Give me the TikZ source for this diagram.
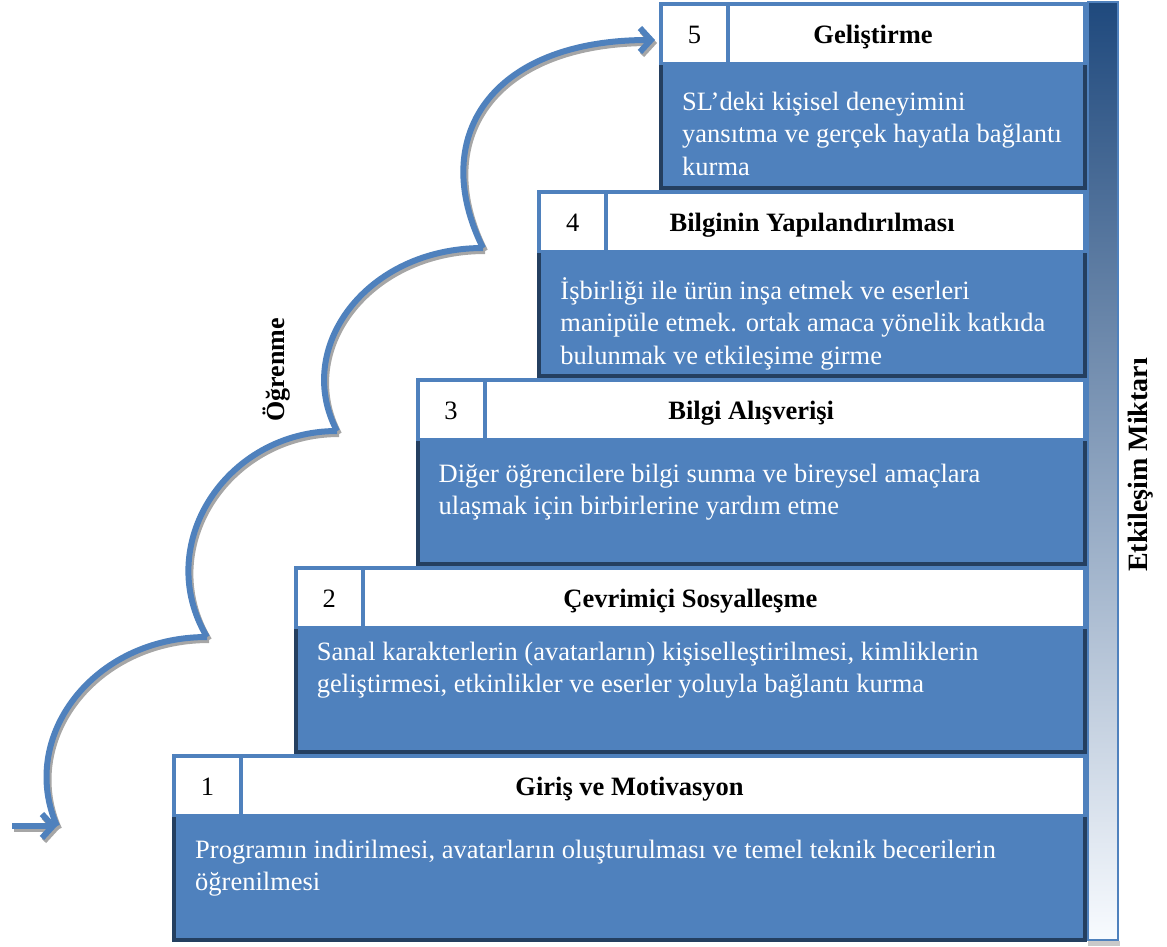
\documentclass[tikz,border=0pt]{standalone}
\usepackage{fontspec}
\setmainfont{Liberation Serif}
\usetikzlibrary{arrows.meta, calc}
\definecolor{stepBlue}{HTML}{4F81BD}
\definecolor{stepDark}{HTML}{243F60}
\definecolor{barTop}{HTML}{1F497D}
\definecolor{barMid}{HTML}{B7CEF4}
\definecolor{barBottom}{HTML}{F8FBFF}
\colorlet{shadowGray}{black!35}

\begin{document}
\begin{tikzpicture}[x=1pt, y=-1pt,
  numcell/.style={fill=white, anchor=north west, inner sep=0pt, minimum width=63pt, minimum height=56pt},
  titlecell/.style={fill=white, anchor=north west, inner sep=0pt, minimum height=56pt},
  hdtext/.style={anchor=base, inner sep=0pt, font=\fontsize{26.5}{32}\selectfont},
  stepdesc/.style={anchor=base west, inner sep=0pt, align=left, text=white, font=\fontsize{26.5}{32.5}\selectfont},
  bodyframe/.style={draw=stepDark, line width=4pt},
  flow/.style={line width=6pt},
  flowtip/.style={-{Straight Barb[length=11pt, width=24pt]}},
  axislabel/.style={rotate=90, inner sep=0pt, font=\bfseries\fontsize{28}{30}\selectfont},
]
\useasboundingbox (0,0) rectangle (1167,946);

% --- steps, bottom to top (dy = baseline of last text line) ---
\foreach \k/\dy/\head/\txt in {
  1/136.5/{Giriş ve Motivasyon}/{Programın indirilmesi, avatarların oluşturulması ve temel teknik becerilerin\\öğrenilmesi},
  2/126.5/{Çevrimiçi Sosyalleşme}/{Sanal karakterlerin (avatarların) kişiselleştirilmesi, kimliklerin\\geliştirmesi, etkinlikler ve eserler yoluyla bağlantı kurma},
  3/136.5/{Bilgi Alışverişi}/{Diğer öğrencilere bilgi sunma ve bireysel amaçlara\\ulaşmak için birbirlerine yardım etme},
  4/174/{Bilginin Yapılandırılması}/{İşbirliği ile ürün inşa etmek ve eserleri\\manipüle etmek. ortak amaca yönelik katkıda\\bulunmak ve etkileşime girme},
  5/173/{Geliştirme}/{SL’deki kişisel deneyimini\\yansıtma ve gerçek hayatla bağlantı\\kurma}}{
  \pgfmathsetmacro{\sx}{172+121.75*(\k-1)}
  \pgfmathsetmacro{\sy}{754-188*(\k-1)}
  \pgfmathsetmacro{\sw}{1012-\sx}
  \fill[stepBlue] (\sx,\sy) rectangle (1087,\sy+188);
  \draw[bodyframe] (\sx+2,\sy+63) |- (1085,\sy+186) -- (1085,\sy+63);
  \node[numcell] (n\k) at (\sx+4,\sy+4) {};
  \node[titlecell, minimum width=\sw] (t\k) at (\sx+71,\sy+4) {};
  \node[hdtext] (num\k) at (\sx+35.5,\sy+41) {\k};
  \node[hdtext, font=\bfseries\fontsize{26.5}{32}\selectfont] (head\k) at ({(\sx+1087)/2},\sy+41) {\head};
  \node[stepdesc] (d\k) at (\sx+23,\sy+\dy) {\txt};
}

% --- interaction bar ---
\fill[shadowGray!60] (1088,941) rectangle (1120,946);
\shade[top color=barTop, middle color=barMid, bottom color=barBottom] (1088,2) rectangle (1118,940);
\draw[stepBlue, line width=1.5pt] (1088,2) rectangle (1118,940);
\node[axislabel] (amount) at (1141,465) {Etkileşim Miktarı};

% --- learning path (grey shadow first, then blue) ---
\coordinate (a0) at (12,826);
\coordinate (a1) at (57,826);
\coordinate (a2) at (207,637);
\coordinate (a3) at (337,431);
\coordinate (a4) at (483,248);
\coordinate (a5) at (655,40);
\foreach \col/\xs/\ys in {shadowGray/2/-3, stepBlue/0/0}{
  \begin{scope}[transform canvas={xshift=\xs pt, yshift=\ys pt}, draw=\col]
    \draw[flow, flowtip] (a0) -- (a1);
    \draw[flow] (a1) .. controls (18,738) and (92,637) .. (a2);
    \draw[flow] (a2) .. controls (152,545) and (226,431) .. (a3);
    \draw[flow] (a3) .. controls (293,348) and (366,248) .. (a4);
    \draw[flow, flowtip] (a4) .. controls (428,138) and (490,40) .. (a5);
  \end{scope}
}
\node[axislabel, font=\bfseries\fontsize{26}{30}\selectfont] (learn) at (277,370) {Öğrenme};
\end{tikzpicture}
\end{document}
